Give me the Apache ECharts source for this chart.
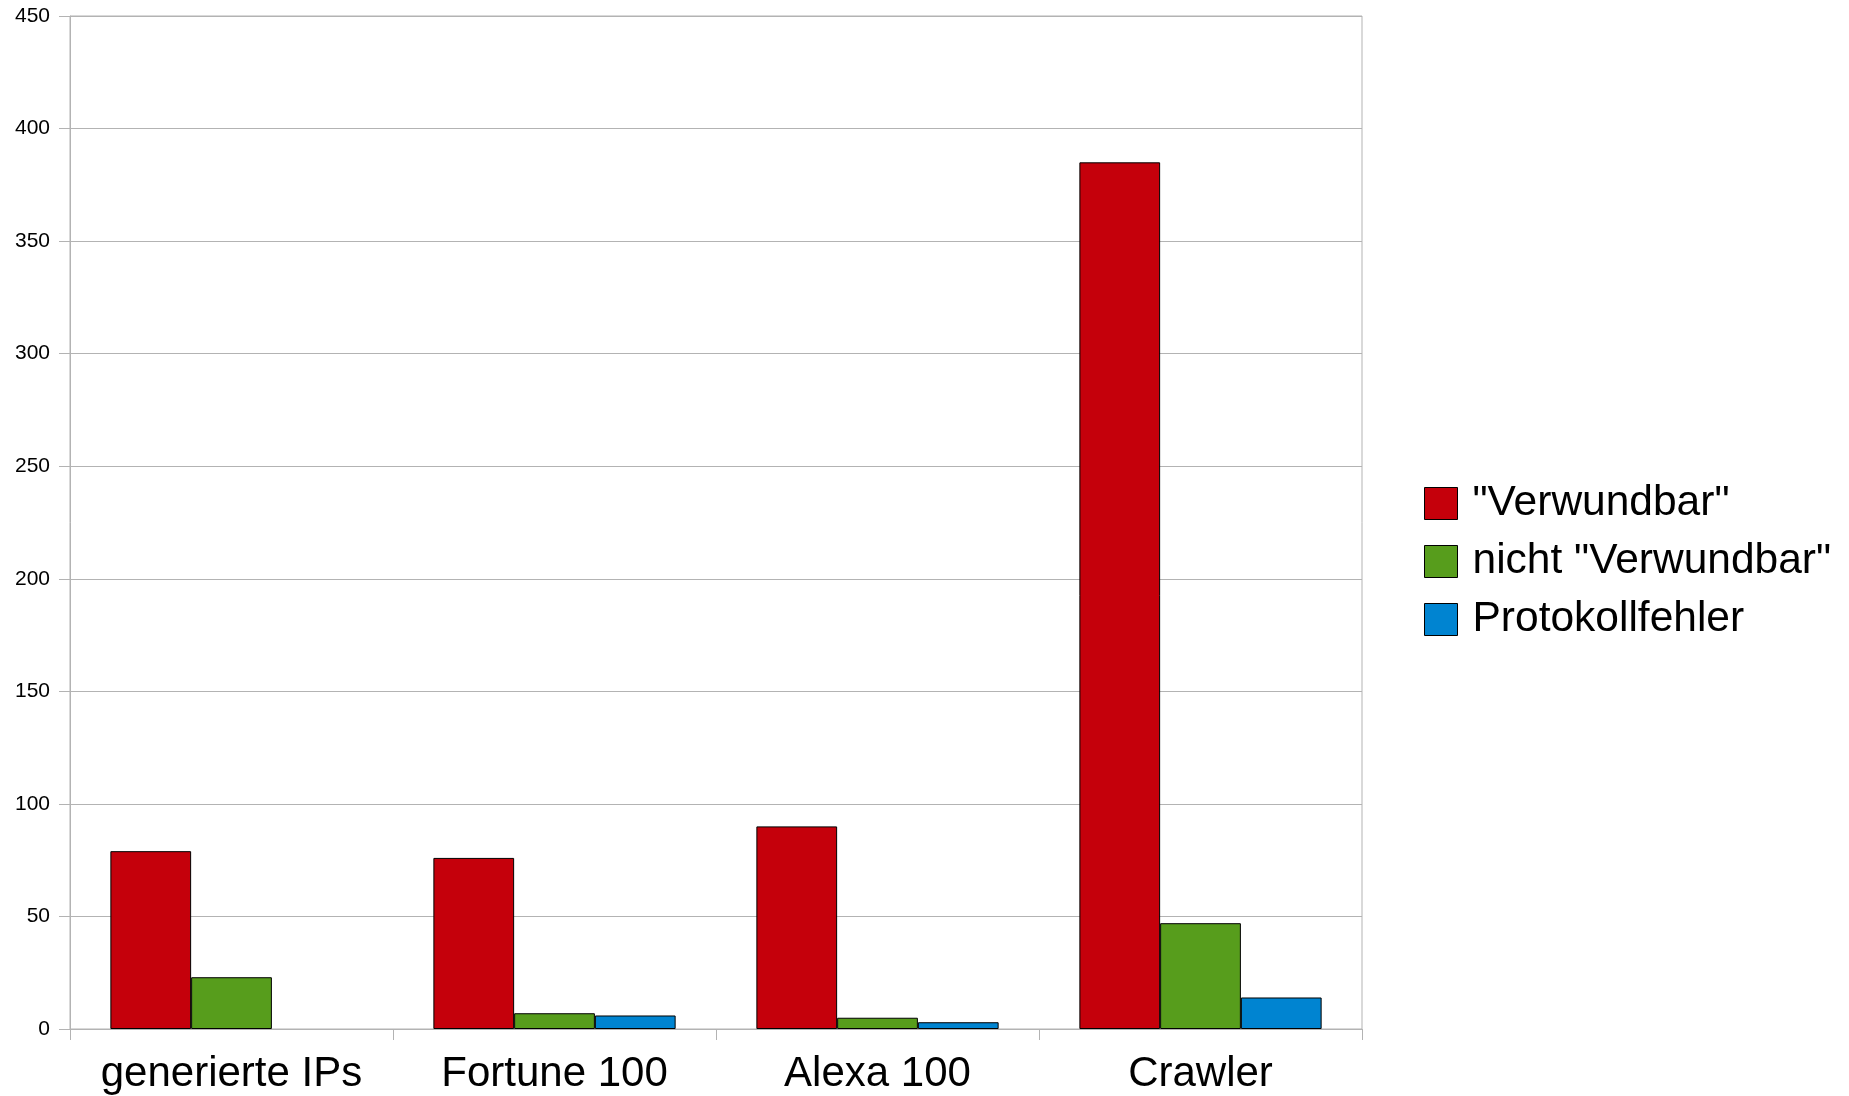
<!DOCTYPE html>
<html>
<head>
<meta charset="utf-8">
<script src="https://cdn.jsdelivr.net/npm/echarts@6/dist/echarts.min.js"></script>
<style>
  html, body { margin: 0; padding: 0; background: #fff; }
  #chart { width: 1849px; height: 1096px; }
</style>
</head>
<body>
<div id="chart"></div>
<script>
// Kategorien und Werte
var categories = ['generierte IPs', 'Fortune 100', 'Alexa 100', 'Crawler'];
var verwundbar = [79, 76, 90, 385];
// kein Balken bei "generierte IPs" -> null statt 0 (sonst Randlinie sichtbar)
var nichtVerwundbar = [23, 7, 5, 47];
var protokollfehler = [null, 6, 3, 14];
var yTicks = [0, 50, 100, 150, 200, 250, 300, 350, 400, 450];

var gridColor = '#b3b3b3';
var font = '"Liberation Sans", Arial, sans-serif';

function bar(name, data, color) {
  return {
    name: name,
    type: 'bar',
    data: data,
    barGap: '0%',
    barCategoryGap: '25%',
    itemStyle: { color: color, borderColor: '#000', borderWidth: 1 }
  };
}

var myChart = echarts.init(document.getElementById('chart'));
myChart.setOption({
  animation: false,
  grid: {
    left: 70, right: 487, top: 16, bottom: 67,
    show: true, borderColor: gridColor, borderWidth: 1,
    containLabel: false
  },
  legend: {
    orient: 'vertical',
    left: 1424,
    top: 482,
    padding: 0,
    itemWidth: 33,
    itemHeight: 32,
    itemGap: 15,
    icon: 'rect',
    itemStyle: { borderColor: '#000', borderWidth: 1 },
    textStyle: { fontFamily: font, fontSize: 42.5, color: '#000', lineHeight: 32, padding: [4, 0, 0, 10] }
  },
  xAxis: {
    type: 'category',
    data: categories,
    axisLine: { lineStyle: { color: gridColor } },
    axisTick: { show: true, length: 11, lineStyle: { color: gridColor } },
    axisLabel: { interval: 0, fontFamily: font, fontSize: 42, color: '#000', margin: 24 }
  },
  yAxis: {
    type: 'value',
    min: yTicks[0],
    max: yTicks[yTicks.length - 1],
    interval: 50,
    axisLine: { show: true, lineStyle: { color: gridColor } },
    axisTick: { show: true, length: 11, lineStyle: { color: gridColor } },
    splitLine: { lineStyle: { color: gridColor } },
    axisLabel: { fontFamily: font, fontSize: 21, color: '#000', margin: 20 }
  },
  series: [
    bar('"Verwundbar"', verwundbar, '#c5000b'),
    bar('nicht "Verwundbar"', nichtVerwundbar, '#579d1c'),
    bar('Protokollfehler', protokollfehler, '#0084d1')
  ]
});
</script>
</body>
</html>
